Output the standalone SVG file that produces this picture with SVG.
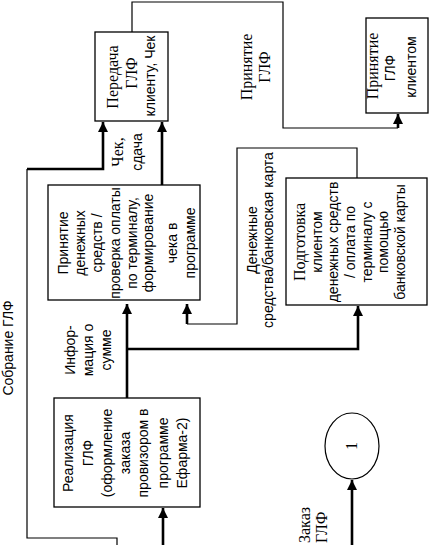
<svg xmlns="http://www.w3.org/2000/svg" width="430" height="545" viewBox="0 0 430 545">
<style>
.box{fill:#fff;stroke:#000;stroke-width:1.3}
.thin{fill:none;stroke:#000;stroke-width:1.2}
.thick{fill:none;stroke:#000;stroke-width:2.6}
text{fill:#000}
.s{font-family:"Liberation Sans",Arial,sans-serif;font-size:14px}
.r{font-family:"Liberation Serif","Times New Roman",serif;font-size:16px}
</style>
<defs>
<marker id="ah" markerUnits="userSpaceOnUse" viewBox="0 0 10 10" markerWidth="10" markerHeight="11" refX="10" refY="5" orient="auto">
<path d="M0,0 L10,5 L0,10 z" fill="#000"/>
</marker>
</defs>
<rect width="430" height="545" fill="#fff"/>
<g id="connectors">
<path class="thin" d="M117,545 V538 H27 V169"/>
<path class="thick" d="M27,169 H103 V122" marker-end="url(#ah)"/>
<path class="thick" d="M127,398 V304" marker-end="url(#ah)"/>
<path class="thick" d="M127,349 H358 V306" marker-end="url(#ah)"/>
<path class="thin" d="M357,178 V148 H237 V324 H187"/>
<path class="thick" d="M187,324 V304" marker-end="url(#ah)"/>
<path class="thick" d="M162,185 V122" marker-end="url(#ah)"/>
<path class="thin" d="M132,32 V2 H283 V128 H398"/>
<path class="thick" d="M398,128 V114" marker-end="url(#ah)"/>
<path class="thick" d="M163,545 V508" marker-end="url(#ah)"/>
<path class="thick" d="M352,545 V480" marker-end="url(#ah)"/>
</g>
<g id="node-peredacha">
<rect class="box" x="95" y="32" width="73" height="89"/>
<text class="r" text-anchor="middle" transform="translate(118,77) rotate(-90)">Передача</text>
<text class="r" text-anchor="middle" transform="translate(137,73) rotate(-90)">ГЛФ</text>
<text class="s" text-anchor="middle" font-size="13" transform="translate(155,76) rotate(-90)">клиенту, Чек</text>
</g>
<g id="node-prinyatie-glf">
<rect class="box" x="366" y="18" width="62" height="95"/>
<text class="r" text-anchor="middle" transform="translate(378,66) rotate(-90)">Принятие</text>
<text class="s" text-anchor="middle" transform="translate(395,68) rotate(-90)">ГЛФ</text>
<text class="s" text-anchor="middle" transform="translate(416,67) rotate(-90)">клиентом</text>
</g>
<g id="node-prinyatie-deneg">
<rect class="box" x="48" y="185" width="152" height="115"/>
<g class="s" text-anchor="middle">
<text transform="translate(68,243) rotate(-90)">Принятие</text>
<text transform="translate(85,243) rotate(-90)">денежных</text>
<text transform="translate(102,243) rotate(-90)">средств /</text>
<text transform="translate(120,243) rotate(-90)">проверка оплаты</text>
<text transform="translate(137,243) rotate(-90)">по терминалу,</text>
<text transform="translate(153,243) rotate(-90)">формирование</text>
<text transform="translate(177,243) rotate(-90)">чека в</text>
<text transform="translate(195,243) rotate(-90)">программе</text>
</g>
</g>
<g id="node-podgotovka">
<rect class="box" x="286" y="178" width="141" height="127"/>
<g class="s" text-anchor="middle">
<text class="r" transform="translate(305,242) rotate(-90)">Подготовка</text>
<text transform="translate(322,242) rotate(-90)">клиентом</text>
<text transform="translate(338,242) rotate(-90)">денежных средств</text>
<text transform="translate(355,242) rotate(-90)">/ оплата по</text>
<text transform="translate(372,242) rotate(-90)">терминалу с</text>
<text transform="translate(388,242) rotate(-90)">помощью</text>
<text transform="translate(405,242) rotate(-90)">банковской карты</text>
</g>
</g>
<g id="node-realizaciya">
<rect class="box" x="54" y="398" width="146" height="109"/>
<g class="s" text-anchor="middle">
<text transform="translate(73,453) rotate(-90)">Реализация</text>
<text transform="translate(93,453) rotate(-90)">ГЛФ</text>
<text transform="translate(112,453) rotate(-90)">(оформление</text>
<text transform="translate(130,453) rotate(-90)">заказа</text>
<text transform="translate(148,453) rotate(-90)">провизором в</text>
<text transform="translate(168,453) rotate(-90)">программе</text>
<text transform="translate(187,453) rotate(-90)">Ефарма-2)</text>
</g>
</g>
<g id="node-1">
<ellipse cx="352" cy="446" rx="27" ry="33" fill="#fff" stroke="#000" stroke-width="1.2"/>
<text class="r" text-anchor="middle" transform="translate(357,446) rotate(-90)">1</text>
</g>
<g id="labels">
<text class="s" font-size="15" text-anchor="middle" transform="translate(13,348) rotate(-90)">Собрание ГЛФ</text>
<text class="r" text-anchor="middle" transform="translate(123,152) rotate(-90)">Чек,</text>
<text class="s" font-size="13" text-anchor="middle" transform="translate(142,152) rotate(-90)">сдача</text>
<text class="r" text-anchor="middle" transform="translate(252,67) rotate(-90)">Принятие</text>
<text class="r" text-anchor="middle" transform="translate(270,67) rotate(-90)">ГЛФ</text>
<text class="s" text-anchor="middle" transform="translate(257,240) rotate(-90)">Денежные</text>
<text class="s" text-anchor="middle" transform="translate(273,240) rotate(-90)">средства/банковская карта</text>
<text class="s" text-anchor="middle" transform="translate(75,350) rotate(-90)">Инфор-</text>
<text class="s" text-anchor="middle" transform="translate(93,350) rotate(-90)">мация о</text>
<text class="s" text-anchor="middle" transform="translate(111,350) rotate(-90)">сумме</text>
<text class="r" text-anchor="start" transform="translate(310,543) rotate(-90)">Заказ</text>
<text class="r" text-anchor="start" transform="translate(327,543) rotate(-90)">ГЛФ</text>
</g>
</svg>
